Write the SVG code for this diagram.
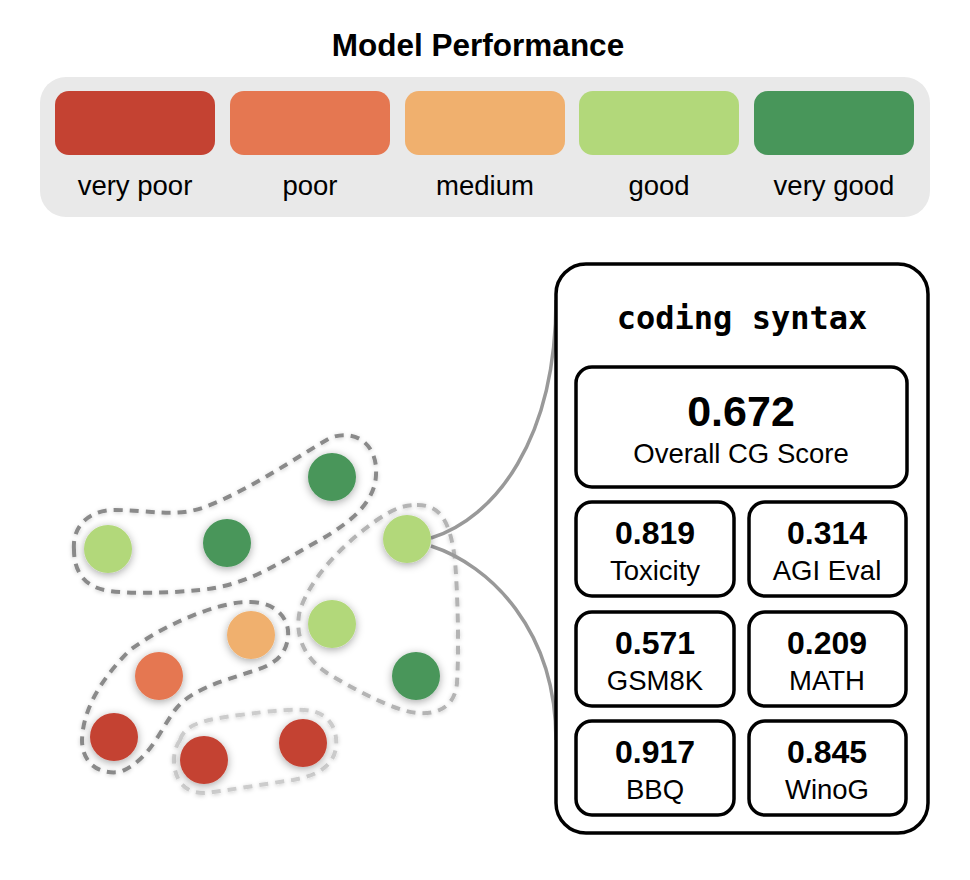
<svg xmlns="http://www.w3.org/2000/svg" width="970" height="880" viewBox="0 0 970 880">
  <defs>
    <filter id="shadow" x="-50%" y="-50%" width="200%" height="200%">
      <feDropShadow dx="0" dy="2" stdDeviation="4" flood-color="#000" flood-opacity="0.35"/>
    </filter>
    <filter id="hullShadow" x="-20%" y="-20%" width="140%" height="140%">
      <feDropShadow dx="0" dy="1" stdDeviation="2" flood-color="#000" flood-opacity="0.2"/>
    </filter>
  </defs>
  <style>
    .sans { font-family: "Liberation Sans", Arial, Helvetica, sans-serif; fill: #000; }
    .title { font-size: 31.5px; font-weight: bold; }
    .lbl { font-size: 27.5px; }
    .mono { font-family: "DejaVu Sans Mono", "Liberation Mono", monospace; font-weight: bold; font-size: 32px; fill: #000; }
    .big { font-size: 43px; font-weight: bold; }
    .num { font-size: 32px; font-weight: bold; }
    .sw { stroke: none; }
    .vp { fill: #c44232; }
    .po { fill: #e57751; }
    .me { fill: #f0b06e; }
    .go { fill: #b2d87a; }
    .vg { fill: #48965a; }
    .node { filter: url(#shadow); }
    .hull { fill: none; stroke-width: 4; stroke-dasharray: 9 7; filter: url(#hullShadow); }
    .h-dark { stroke: #8a8a8a; }
    .h-mid { stroke: #b4b4b4; }
    .h-light { stroke: #cccccc; }
    .box { fill: #fff; stroke: #000; stroke-width: 3.5; }
    .link { fill: none; stroke: #999; stroke-width: 3.5; }
  </style>

  <!-- Legend -->
  <g id="legend">
    <text class="sans title" x="478" y="56" text-anchor="middle">Model Performance</text>
    <rect x="40" y="77" width="890" height="140" rx="26" fill="#e9e9e9"/>
    <rect class="sw vp" x="55" y="91" width="160" height="64" rx="14"/>
    <rect class="sw po" x="230" y="91" width="160" height="64" rx="14"/>
    <rect class="sw me" x="405" y="91" width="160" height="64" rx="14"/>
    <rect class="sw go" x="579" y="91" width="160" height="64" rx="14"/>
    <rect class="sw vg" x="754" y="91" width="160" height="64" rx="14"/>
    <text class="sans lbl" x="135" y="195" text-anchor="middle">very poor</text>
    <text class="sans lbl" x="310" y="195" text-anchor="middle">poor</text>
    <text class="sans lbl" x="485" y="195" text-anchor="middle">medium</text>
    <text class="sans lbl" x="659" y="195" text-anchor="middle">good</text>
    <text class="sans lbl" x="834" y="195" text-anchor="middle">very good</text>
  </g>

  <!-- Cluster hulls -->
  <g id="hulls">
    <path id="hull-top" class="hull h-dark" d="M 74 550 C 72 525 90 510 115 510 C 150 510 175 518 205 507 C 250 490 300 455 330 438 C 356 428 378 445 376 475 C 375 500 355 520 320 540 C 280 562 250 585 200 590 C 170 593 130 594 110 591 C 85 588 74 572 74 550 Z"/>
    <path id="hull-right" class="hull h-mid" d="M 417 505 C 440 505 450 520 455 560 C 458 600 459 650 457 683 C 455 705 440 715 417 713 C 395 711 355 690 327 673 C 300 655 295 630 300 610 C 310 580 340 545 380 518 C 395 508 405 505 417 505 Z"/>
    <path id="hull-mid" class="hull h-dark" d="M 250 602 C 275 602 290 618 288 637 C 286 655 275 665 250 672 C 220 682 190 690 175 710 C 160 730 150 760 120 772 C 95 775 82 760 82 740 C 83 710 100 680 130 650 C 160 628 200 610 230 604 C 238 602 244 602 250 602 Z"/>
    <path id="hull-bottom" class="hull h-light" d="M 180 740 C 185 725 200 720 240 715 C 270 711 295 708 312 711 C 330 715 338 730 336 748 C 333 765 320 775 293 780 C 265 784 230 790 205 793 C 185 794 174 780 174 760 C 174 752 176 746 180 740 Z"/>
  </g>

  <!-- Connectors -->
  <g id="connectors">
    <path class="link" d="M 431 538 C 495 518 556 440 556 300"/>
    <path class="link" d="M 431 546 C 490 565 556 630 556 740"/>
  </g>

  <!-- Nodes -->
  <g id="node-1" class="node"><circle class="go" cx="108" cy="549" r="24"/></g>
  <g id="node-2" class="node"><circle class="vg" cx="227" cy="543" r="24"/></g>
  <g id="node-3" class="node"><circle class="vg" cx="332" cy="477" r="24"/></g>
  <g id="node-4" class="node"><circle class="go" cx="407" cy="539" r="24"/></g>
  <g id="node-5" class="node"><circle class="go" cx="332" cy="624" r="24"/></g>
  <g id="node-6" class="node"><circle class="vg" cx="416" cy="676" r="24"/></g>
  <g id="node-7" class="node"><circle class="me" cx="251" cy="635" r="24"/></g>
  <g id="node-8" class="node"><circle class="po" cx="159" cy="676" r="24"/></g>
  <g id="node-9" class="node"><circle class="vp" cx="114" cy="737" r="24"/></g>
  <g id="node-10" class="node"><circle class="vp" cx="204" cy="760" r="24"/></g>
  <g id="node-11" class="node"><circle class="vp" cx="303" cy="743" r="24"/></g>

  <!-- Detail panel -->
  <g id="panel">
    <rect class="box" x="556" y="264" width="372" height="569" rx="30"/>
    <text class="mono" x="742" y="329" text-anchor="middle">coding syntax</text>
    <g id="overall">
      <rect class="box" x="576" y="367" width="331" height="120" rx="16"/>
      <text class="sans big" x="741" y="426" text-anchor="middle">0.672</text>
      <text class="sans lbl" x="741" y="463" text-anchor="middle">Overall CG Score</text>
    </g>
    <g id="toxicity">
      <rect class="box" x="576" y="502" width="158" height="94" rx="16"/>
      <text class="sans num" x="655" y="544" text-anchor="middle">0.819</text>
      <text class="sans lbl" x="655" y="580" text-anchor="middle">Toxicity</text>
    </g>
    <g id="agieval">
      <rect class="box" x="749" y="502" width="157" height="94" rx="16"/>
      <text class="sans num" x="827" y="544" text-anchor="middle">0.314</text>
      <text class="sans lbl" x="827" y="580" text-anchor="middle">AGI Eval</text>
    </g>
    <g id="gsm8k">
      <rect class="box" x="576" y="612" width="158" height="94" rx="16"/>
      <text class="sans num" x="655" y="654" text-anchor="middle">0.571</text>
      <text class="sans lbl" x="655" y="690" text-anchor="middle">GSM8K</text>
    </g>
    <g id="math">
      <rect class="box" x="749" y="612" width="157" height="94" rx="16"/>
      <text class="sans num" x="827" y="654" text-anchor="middle">0.209</text>
      <text class="sans lbl" x="827" y="690" text-anchor="middle">MATH</text>
    </g>
    <g id="bbq">
      <rect class="box" x="576" y="721" width="158" height="94" rx="16"/>
      <text class="sans num" x="655" y="763" text-anchor="middle">0.917</text>
      <text class="sans lbl" x="655" y="799" text-anchor="middle">BBQ</text>
    </g>
    <g id="winog">
      <rect class="box" x="749" y="721" width="157" height="94" rx="16"/>
      <text class="sans num" x="827" y="763" text-anchor="middle">0.845</text>
      <text class="sans lbl" x="827" y="799" text-anchor="middle">WinoG</text>
    </g>
  </g>
</svg>
